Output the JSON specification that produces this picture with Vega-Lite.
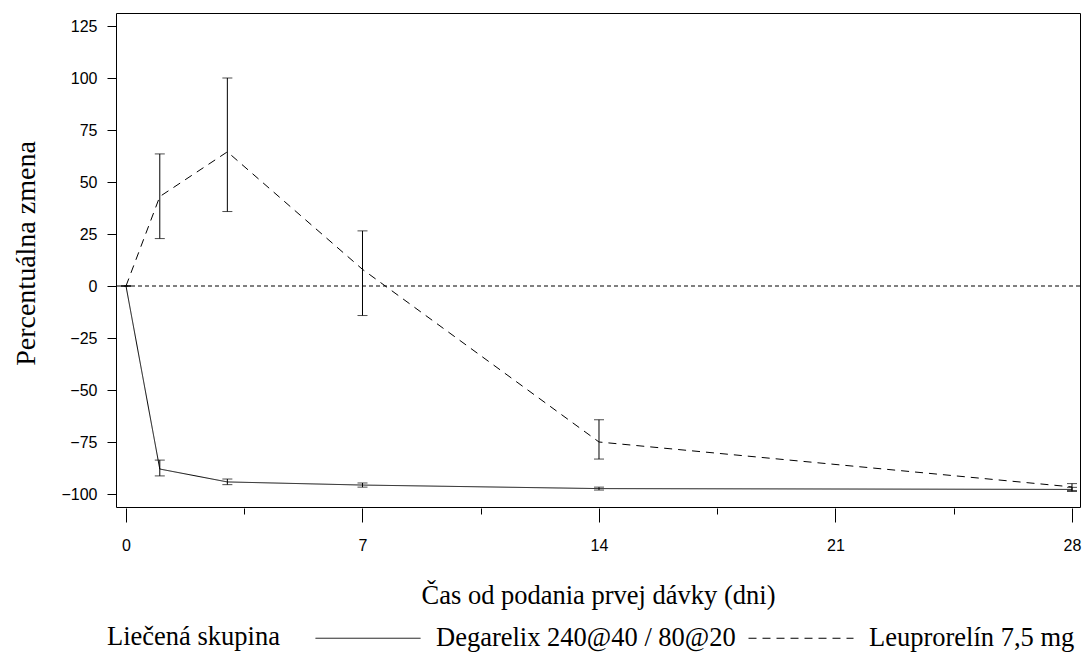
{
  "$schema": "https://vega.github.io/schema/vega-lite/v6.json",
  "width": 964,
  "height": 494,
  "autosize": {"type": "none"},
  "padding": {"left": 116, "top": 13, "right": 4, "bottom": 146},
  "background": "white",
  "config": {
    "view": {"stroke": "black", "strokeWidth": 1},
    "axis": {
      "domain": false,
      "grid": false,
      "tickColor": "black",
      "tickWidth": 1,
      "labelColor": "black",
      "labelFont": "Liberation Sans",
      "labelFontSize": 16,
      "titleColor": "black",
      "titleFont": "Liberation Serif",
      "titleFontSize": 26.5,
      "titleFontWeight": "normal"
    }
  },
  "datasets": {
    "series": [
      {"group": "Degarelix 240@40 / 80@20", "day": 0, "mean": 0, "lo": 0, "hi": 0},
      {"group": "Degarelix 240@40 / 80@20", "day": 1, "mean": -88.0, "lo": -91.3, "hi": -83.7},
      {"group": "Degarelix 240@40 / 80@20", "day": 3, "mean": -94.2, "lo": -95.5, "hi": -92.8},
      {"group": "Degarelix 240@40 / 80@20", "day": 7, "mean": -95.7, "lo": -96.7, "hi": -94.7},
      {"group": "Degarelix 240@40 / 80@20", "day": 14, "mean": -97.4, "lo": -98.1, "hi": -96.7},
      {"group": "Degarelix 240@40 / 80@20", "day": 28, "mean": -97.8, "lo": -98.8, "hi": -96.8},
      {"group": "Leuprorelín 7,5 mg", "day": 0, "mean": 0, "lo": 0, "hi": 0},
      {"group": "Leuprorelín 7,5 mg", "day": 1, "mean": 43.0, "lo": 22.8, "hi": 63.5},
      {"group": "Leuprorelín 7,5 mg", "day": 3, "mean": 64.5, "lo": 35.8, "hi": 100.0},
      {"group": "Leuprorelín 7,5 mg", "day": 7, "mean": 8.0, "lo": -14.2, "hi": 26.5},
      {"group": "Leuprorelín 7,5 mg", "day": 14, "mean": -75.0, "lo": -83.2, "hi": -64.3},
      {"group": "Leuprorelín 7,5 mg", "day": 28, "mean": -96.6, "lo": -98.3, "hi": -95.0}
    ],
    "ref": [{"level": 0}]
  },
  "layer": [
    {
      "data": {"name": "ref"},
      "mark": {"type": "rule", "color": "black", "strokeWidth": 1, "strokeDash": [4, 3]},
      "encoding": {
        "y": {
          "field": "level",
          "type": "quantitative",
          "scale": {"domain": [-106.25, 131.25], "nice": false, "zero": false},
          "axis": {
            "title": "Percentuálna zmena",
            "values": [-100, -87.5, -75, -62.5, -50, -37.5, -25, -12.5, 0, 12.5, 25, 37.5, 50, 62.5, 75, 87.5, 100, 112.5, 125],
            "labelExpr": "datum.value % 25 === 0 ? datum.label : ''",
            "tickSize": {"condition": {"test": "datum.value % 25 === 0", "value": 9}, "value": 4},
            "labelPadding": 10,
            "titlePadding": 20,
            "titleFontSize": 28,
            "titleY": 240
          }
        }
      }
    },
    {
      "data": {"name": "series"},
      "mark": {"type": "line", "color": "black", "strokeWidth": 1},
      "encoding": {
        "x": {
          "field": "day",
          "type": "quantitative",
          "scale": {"domain": [-0.296, 28.237], "nice": false, "zero": false},
          "axis": {
            "title": "Čas od podania prvej dávky (dni)",
            "values": [0, 3.5, 7, 10.5, 14, 17.5, 21, 24.5, 28],
            "labelExpr": "datum.value % 7 === 0 ? datum.label : ''",
            "tickSize": {"condition": {"test": "datum.value % 7 === 0", "value": 14}, "value": 6},
            "offset": 1,
            "labelPadding": 15,
            "titlePadding": 29
          }
        },
        "y": {"field": "mean", "type": "quantitative"},
        "strokeDash": {
          "field": "group",
          "type": "nominal",
          "scale": {"domain": ["Degarelix 240@40 / 80@20", "Leuprorelín 7,5 mg"], "range": [[1, 0], [8, 6]]},
          "legend": {
            "orient": "none",
            "legendX": -9,
            "legendY": 572,
            "direction": "horizontal",
            "title": "Liečená skupina",
            "titleOrient": "left",
            "titleAnchor": "middle",
            "titleBaseline": "line-top",
            "titleLineHeight": 38.5,
            "titleFont": "Liberation Serif",
            "titleFontSize": 26.5,
            "titleFontWeight": "normal",
            "titleColor": "black",
            "titlePadding": 35,
            "titleLimit": 0,
            "labelFont": "Liberation Serif",
            "labelFontSize": 26.5,
            "labelColor": "black",
            "labelOffset": 15,
            "labelLimit": 0,
            "symbolType": "stroke",
            "symbolSize": 11025,
            "symbolStrokeWidth": 1,
            "symbolStrokeColor": "black",
            "columnPadding": 10,
            "padding": 0
          }
        }
      }
    },
    {
      "data": {"name": "series"},
      "mark": {"type": "rule", "color": "black", "strokeWidth": 1},
      "encoding": {
        "x": {"field": "day", "type": "quantitative"},
        "y": {"field": "lo", "type": "quantitative"},
        "y2": {"field": "hi"}
      }
    },
    {
      "data": {"name": "series"},
      "mark": {"type": "tick", "orient": "horizontal", "color": "black", "size": 10, "thickness": 1},
      "encoding": {
        "x": {"field": "day", "type": "quantitative"},
        "y": {"field": "lo", "type": "quantitative"}
      }
    },
    {
      "data": {"name": "series"},
      "mark": {"type": "tick", "orient": "horizontal", "color": "black", "size": 10, "thickness": 1},
      "encoding": {
        "x": {"field": "day", "type": "quantitative"},
        "y": {"field": "hi", "type": "quantitative"}
      }
    }
  ]
}
